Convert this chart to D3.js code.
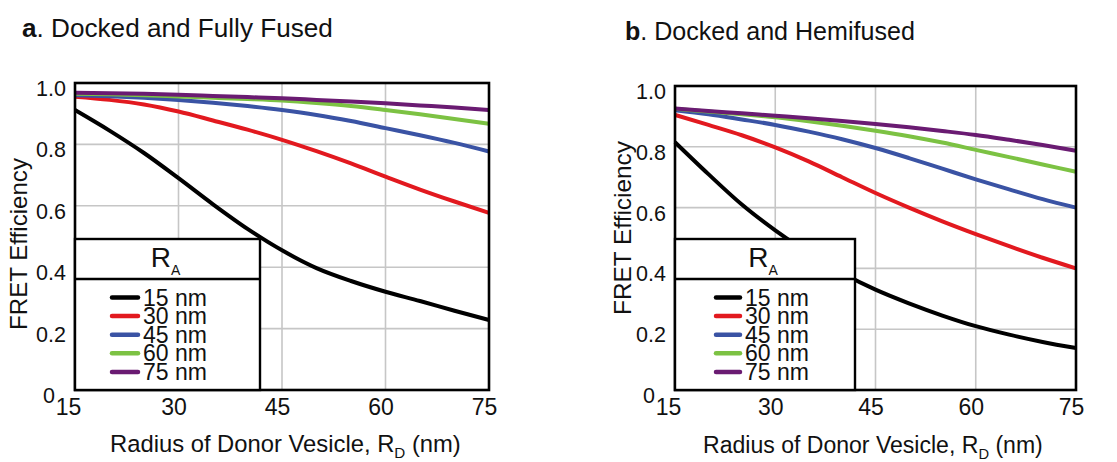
<!DOCTYPE html>
<html>
<head>
<meta charset="utf-8">
<script src="https://cdn.jsdelivr.net/npm/d3@7"></script>
<style>
  body { margin: 0; background: #fff; }
  text { font-family: "Liberation Sans", Arial, Helvetica, sans-serif; fill: #111; }
</style>
</head>
<body>
<script>
// donor vesicle radius (x values, nm)
var radius = [15, 20, 25, 30, 35, 40, 45, 50, 55, 60, 65, 70, 75];

// a. docked and fully fused, one array per acceptor radius
var fused15 = [0.912, 0.845, 0.772, 0.69, 0.605, 0.525, 0.455, 0.397, 0.355, 0.32, 0.29, 0.258, 0.228];
var fused30 = [0.955, 0.945, 0.93, 0.907, 0.878, 0.848, 0.815, 0.778, 0.738, 0.695, 0.653, 0.614, 0.577];
var fused45 = [0.96, 0.957, 0.952, 0.945, 0.936, 0.925, 0.912, 0.896, 0.876, 0.853, 0.83, 0.805, 0.777];
var fused60 = [0.965, 0.963, 0.96, 0.956, 0.952, 0.948, 0.943, 0.935, 0.925, 0.912, 0.898, 0.883, 0.867];
var fused75 = [0.968, 0.967, 0.965, 0.962, 0.958, 0.954, 0.95, 0.945, 0.94, 0.934, 0.927, 0.92, 0.912];

// b. docked and hemifused
var hemi15 = [0.815, 0.71, 0.61, 0.525, 0.45, 0.385, 0.33, 0.285, 0.245, 0.21, 0.182, 0.158, 0.138];
var hemi30 = [0.905, 0.872, 0.838, 0.798, 0.752, 0.7, 0.648, 0.6, 0.555, 0.513, 0.473, 0.435, 0.4];
var hemi45 = [0.92, 0.907, 0.89, 0.872, 0.85, 0.825, 0.796, 0.763, 0.728, 0.693, 0.66, 0.628, 0.6];
var hemi60 = [0.925, 0.916, 0.907, 0.897, 0.884, 0.869, 0.853, 0.835, 0.814, 0.79, 0.766, 0.742, 0.718];
var hemi75 = [0.926, 0.918, 0.91, 0.902, 0.894, 0.885, 0.875, 0.864, 0.852, 0.839, 0.823, 0.806, 0.787];

var seriesLabels = ["15 nm", "30 nm", "45 nm", "60 nm", "75 nm"];
var colors = ["#000000", "#e2191f", "#3a53a4", "#7cc243", "#6a1b72"];
var xTicks = [15, 30, 45, 60, 75];
var yTicks = [0, 0.2, 0.4, 0.6, 0.8, 1.0];

var panels = [
  { letter: "a", title: ". Docked and Fully Fused", series: [fused15, fused30, fused45, fused60, fused75],
    xr: [75, 489], yr: [390, 83], titleX: 22, titleY: 37, titleW: 311,
    xTitleX: 110, xTitleY: 452, xTitleW: 351, yTitleX: 27, yTitleY: 244, yTitleW: 172,
    legRight: 260, legLine: [112, 138], legText: 143 },
  { letter: "b", title: ". Docked and Hemifused", series: [hemi15, hemi30, hemi45, hemi60, hemi75],
    xr: [675, 1076], yr: [390, 86], titleX: 625, titleY: 40, titleW: 290,
    xTitleX: 703, xTitleY: 453, xTitleW: 340, yTitleX: 631, yTitleY: 228, yTitleW: 174,
    legRight: 855, legLine: [716, 740], legText: 745 }
];

var svg = d3.select("body").append("svg")
    .attr("width", 1117)
    .attr("height", 462)
    .style("background", "#fff");

// stretch a text horizontally so it covers the width seen in the figure
function fitWidth(t, w) {
  var bw = t.node().getBBox().width;
  t.attr("transform", "scale(" + (w / bw) + ",1)");
}

panels.forEach(function(p) {
  var x = d3.scaleLinear().domain([15, 75]).range(p.xr);
  var y = d3.scaleLinear().domain([0, 1]).range(p.yr);
  var g = svg.append("g");

  // grid
  g.selectAll(".hgrid").data(yTicks.slice(1, -1)).enter().append("line")
      .attr("x1", p.xr[0]).attr("x2", p.xr[1])
      .attr("y1", function(d) { return y(d); }).attr("y2", function(d) { return y(d); })
      .attr("stroke", "#c6c6c6").attr("stroke-width", 1.6);
  g.selectAll(".vgrid").data(xTicks.slice(1, -1)).enter().append("line")
      .attr("y1", p.yr[0]).attr("y2", p.yr[1])
      .attr("x1", function(d) { return x(d); }).attr("x2", function(d) { return x(d); })
      .attr("stroke", "#c6c6c6").attr("stroke-width", 1.6);

  // curves
  var line = d3.line()
      .x(function(d, i) { return x(radius[i]); })
      .y(function(d) { return y(d); })
      .curve(d3.curveMonotoneX);
  g.selectAll(".curve").data(p.series).enter().append("path")
      .attr("d", line)
      .attr("fill", "none")
      .attr("stroke", function(d, i) { return colors[i]; })
      .attr("stroke-width", 4);

  // frame
  g.append("rect")
      .attr("x", p.xr[0]).attr("y", p.yr[1])
      .attr("width", p.xr[1] - p.xr[0]).attr("height", p.yr[0] - p.yr[1])
      .attr("fill", "none").attr("stroke", "#000").attr("stroke-width", 2.6);

  // axes (labels only)
  var ya = g.append("g").attr("transform", "translate(" + p.xr[0] + ",0)")
      .call(d3.axisLeft(y).tickValues(yTicks).tickSize(0).tickPadding(9)
        .tickFormat(function(d) { return d === 0 ? "0" : d.toFixed(1); }));
  ya.select(".domain").remove();
  ya.selectAll("text").attr("font-size", 21.5).attr("font-family", null).attr("dy", "0.58em")
      .attr("x", function(d) { return d === 0 ? -20 : -9; });

  var xa = g.append("g").attr("transform", "translate(0," + p.yr[0] + ")")
      .call(d3.axisBottom(x).tickValues(xTicks).tickSize(0).tickPadding(9));
  xa.select(".domain").remove();
  xa.selectAll("text").attr("font-size", 23).attr("font-family", null)
      .attr("dx", function(d) { return d === 15 ? -7 : -5; });

  // legend
  var lg = g.append("g");
  var top = 239, div = 279;
  lg.append("rect")
      .attr("x", p.xr[0]).attr("y", top)
      .attr("width", p.legRight - p.xr[0]).attr("height", p.yr[0] - top)
      .attr("fill", "#fff").attr("stroke", "#000").attr("stroke-width", 2.4);
  lg.append("line")
      .attr("x1", p.xr[0]).attr("x2", p.legRight).attr("y1", div).attr("y2", div)
      .attr("stroke", "#000").attr("stroke-width", 2.4);
  var head = lg.append("text")
      .attr("x", (p.xr[0] + p.legRight) / 2 - 2).attr("y", 267)
      .attr("text-anchor", "middle").attr("font-size", 28);
  head.append("tspan").text("R");
  head.append("tspan").attr("font-size", 14).attr("dy", 8).text("A");

  var items = lg.selectAll(".item").data(seriesLabels).enter().append("g")
      .attr("transform", function(d, i) { return "translate(0," + (297.5 + i * 18.6) + ")"; });
  items.append("line")
      .attr("x1", p.legLine[0]).attr("x2", p.legLine[1])
      .attr("stroke", function(d, i) { return colors[i]; })
      .attr("stroke-width", 4.5).attr("stroke-linecap", "round");
  items.append("text")
      .attr("x", p.legText).attr("y", 8)
      .attr("font-size", 23)
      .text(function(d) { return d; });

  // titles
  var tg = svg.append("g").attr("transform", "translate(" + p.titleX + "," + p.titleY + ")");
  var tt = tg.append("text").attr("font-size", 26);
  tt.append("tspan").attr("font-weight", "bold").text(p.letter);
  tt.append("tspan").text(p.title);
  fitWidth(tt, p.titleW);

  var xg = svg.append("g").attr("transform", "translate(" + p.xTitleX + "," + p.xTitleY + ")");
  var xt = xg.append("text").attr("font-size", 23.5);
  xt.append("tspan").text("Radius of Donor Vesicle, R");
  xt.append("tspan").attr("font-size", 15).attr("dy", 6).text("D");
  xt.append("tspan").attr("dy", -6).text(" (nm)");
  fitWidth(xt, p.xTitleW);

  var yg = svg.append("g").attr("transform", "translate(" + p.yTitleX + "," + p.yTitleY + ") rotate(-90)");
  var yt = yg.append("text").attr("font-size", 24).attr("text-anchor", "middle").text("FRET Efficiency");
  fitWidth(yt, p.yTitleW);
});
</script>
</body>
</html>
